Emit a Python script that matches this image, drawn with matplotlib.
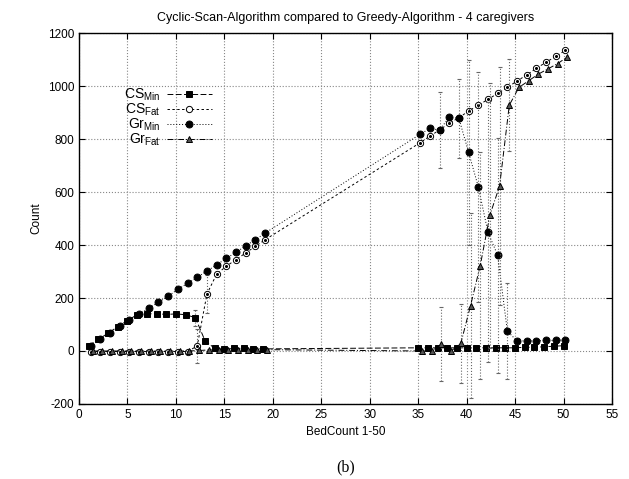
import matplotlib
matplotlib.use("Agg")
import matplotlib.pyplot as plt
import numpy as np

plt.rcParams['font.family'] = ['Liberation Sans', 'DejaVu Sans']
plt.rcParams['mathtext.fontset'] = 'custom'
plt.rcParams['mathtext.rm'] = 'Liberation Sans'
plt.rcParams['mathtext.it'] = 'Liberation Sans'
plt.rcParams['axes.unicode_minus'] = False

# bed counts (two measured ranges)
beds = list(range(1, 20)) + list(range(35, 51))

cs_min = [20, 44, 67, 92, 115, 137, 140, 141, 138, 140, 137, 126, 39, 10, 6, 10, 10, 8, 8,
          12, 12, 12, 12, 12, 12, 12, 12, 12, 12, 12, 14, 14, 16, 18, 20]
cs_fat = [-2, -2, -2, -2, -2, -2, -2, -2, -2, -2, -2, 19, 215, 290, 320, 345, 370, 395, 420,
          786, 811, 834, 860, 880, 906, 927, 950, 972, 995, 1019, 1042, 1067, 1090, 1112, 1135]
gr_min = [20, 44, 68, 93, 117, 140, 161, 184, 207, 233, 255, 278, 302, 325, 350, 372, 397, 420, 445,
          818, 840, 834, 882, 878, 750, 620, 448, 361, 75, 38, 38, 38, 40, 40, 42]
gr_fat = [0, 0, 0, 0, 0, 0, 0, 0, 0, 0, 0, 2, 4, 4, 4, 4, 5, 5, 5,
          0, 0, 25, 0, 29, 171, 322, 513, 623, 928, 995, 1020, 1045, 1065, 1085, 1110]

# error bar half widths (0 = no bar)
cs_min_err = [0]*11 + [30, 0] + [0]*6 + [0]*16
cs_fat_err = [0]*11 + [65, 70] + [0]*6 + [0]*16
gr_min_err = [0]*19 + [0, 0, 145, 0, 150, 350, 434, 490, 444, 180, 0, 0, 0, 0, 0, 0]
gr_fat_err = [0]*19 + [0, 0, 140, 0, 150, 350, 428, 500, 450, 175, 0, 0, 0, 0, 0, 0]

# small x shifts used for each series in the original plot
shift = {'cs_min': 0.0, 'cs_fat': 0.2, 'gr_min': 0.2, 'gr_fat': 0.4}

fig = plt.figure(figsize=(6.29, 4.79), dpi=100)
ax = fig.add_axes([0.1256, 0.1566, 0.8474, 0.7744])

series = [
    (cs_min, cs_min_err, 'cs_min', r'CS$_{\mathrm{Min}}$', dict(marker='s', ms=5, mfc='black', ls=(0, (6, 2.5)))),
    (cs_fat, cs_fat_err, 'cs_fat', r'CS$_{\mathrm{Fat}}$', dict(marker='o', ms=4.5, mfc='white', ls=(0, (2.5, 2.5)))),
    (gr_min, gr_min_err, 'gr_min', r'Gr$_{\mathrm{Min}}$', dict(marker='o', ms=5, mfc='black', ls=(0, (1, 2)))),
    (gr_fat, gr_fat_err, 'gr_fat', r'Gr$_{\mathrm{Fat}}$', dict(marker='^', ms=5, mfc='#555555', ls=(0, (6, 2, 1, 2)))),
]

for vals, errs, key, label, style in series:
    x = np.array(beds) + shift[key]
    y = np.array(vals)
    e = np.array(errs)
    m = e > 0
    if m.any():
        _, caps, bars = ax.errorbar(x[m], y[m], yerr=e[m], fmt='none', ecolor='#666666',
                                    elinewidth=0.8, capsize=1.5, capthick=0.8)
        for b in bars:
            b.set_linestyle(':')
    ax.plot(x, y, color='black', lw=0.7, mec='black', mew=0.7, label=label, **style)
    if key == 'cs_fat':
        ax.plot(x, y, ls='none', marker='o', ms=1.2, color='black')

ax.set_xlim(0, 55)
ax.set_ylim(-200, 1200)
ax.set_xticks(range(0, 56, 5))
ax.set_yticks(range(-200, 1201, 200))
ax.grid(True, ls=':', color='#888888', lw=0.8)
ax.tick_params(direction='in', top=True, right=True, labelsize=8.5, length=4)
for s in ax.spines.values():
    s.set_linewidth(1.0)

ax.set_title('Cyclic-Scan-Algorithm compared to Greedy-Algorithm - 4 caregivers', fontsize=9, pad=9)
ax.set_xlabel('BedCount 1-50', fontsize=8.5)
ax.set_ylabel('Count', fontsize=8.5)

ax.legend(loc='upper right', bbox_to_anchor=(0.262, 0.875), frameon=False, markerfirst=False,
          fontsize=10, handlelength=3.2, labelspacing=-0.1, handletextpad=0.5, borderpad=0)

fig.text(0.55, 0.015, '(b)', family='Liberation Serif', fontsize=11.5, ha='center')

fig.savefig('out.png', dpi=100)
